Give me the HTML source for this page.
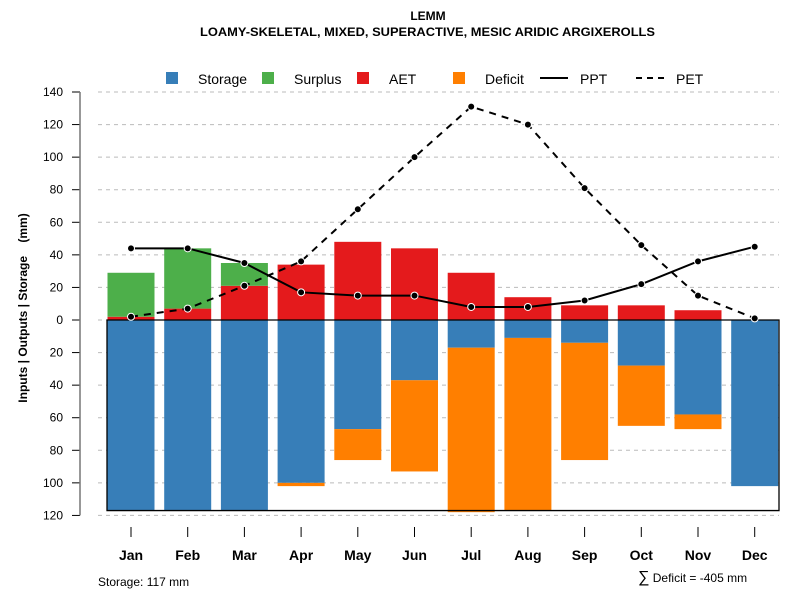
<!DOCTYPE html>
<html><head><meta charset="utf-8"><style>body{margin:0;background:#fff}svg{display:block;font-family:"Liberation Sans",Arial,sans-serif}</style></head>
<body>
<svg id="chart" width="800" height="600" viewBox="0 0 800 600">
<text x="428" y="20" text-anchor="middle" font-size="12" font-weight="bold">LEMM</text>
<text x="200" y="36" font-size="12" font-weight="bold" textLength="455" lengthAdjust="spacingAndGlyphs">LOAMY-SKELETAL, MIXED, SUPERACTIVE, MESIC ARIDIC ARGIXEROLLS</text>
<g id="legend" font-size="14">
<rect x="166" y="72" width="12" height="12" fill="#377EB8"/><text x="198" y="84">Storage</text>
<rect x="262" y="72" width="12" height="12" fill="#4DAF4A"/><text x="294" y="84">Surplus</text>
<rect x="357" y="72" width="12" height="12" fill="#E41A1C"/><text x="389" y="84">AET</text>
<rect x="453" y="72" width="12" height="12" fill="#FF7F00"/><text x="485" y="84">Deficit</text>
<line x1="540" y1="78" x2="568" y2="78" stroke="#000" stroke-width="2"/><text x="580" y="84">PPT</text>
<line x1="636" y1="78" x2="664" y2="78" stroke="#000" stroke-width="2" stroke-dasharray="6,5"/><text x="676" y="84">PET</text>
</g>
<g id="grid"></g><g id="bars"></g><g id="lines"></g><g id="axes"></g>
<text transform="translate(27,308) rotate(-90)" text-anchor="middle" font-size="12" font-weight="bold" xml:space="preserve">Inputs | Outputs | Storage    (mm)</text>
<text x="98" y="586" font-size="12">Storage: 117 mm</text>
<text x="638" y="582" font-size="12"><tspan font-size="16">∑</tspan> Deficit = -405 mm</text>
</svg>
<script>
const months=["Jan","Feb","Mar","Apr","May","Jun","Jul","Aug","Sep","Oct","Nov","Dec"];
const storage=[117,117,117,100,67,37,17,11,14,28,58,102];
const deficit=[0,0,0,2,19,56,101,106,72,37,9,0];
const aet=[2,7,21,34,48,44,29,14,9,9,6,0];
const surplus=[27,37,14,0,0,0,0,0,0,0,0,0];
const ppt=[44,44,35,17,15,15,8,8,12,22,36,45];
const pet=[2,7,21,36,68,100,131,120,81,46,15,1];
const yTicks=[140,120,100,80,60,40,20,0,-20,-40,-60,-80,-100,-120];
const cap=117;
const NS="http://www.w3.org/2000/svg";
const y=v=>320-v*1.6286, x=i=>131+i*56.7, bw=47;
function mk(p,t,a){const e=document.createElementNS(NS,t);for(const k in a)e.setAttribute(k,a[k]);document.getElementById(p).appendChild(e);return e;}
yTicks.forEach(v=>{
 const g=mk("grid","line",{x1:98,x2:779,y1:y(v),y2:y(v),stroke:"#bbb","stroke-dasharray":"4,4"});
 
 
 mk("axes","line",{x1:72,x2:80,y1:y(v),y2:y(v),stroke:"#000"});
 const t=mk("axes","text",{x:63,y:y(v)+4,"text-anchor":"end","font-size":12});t.textContent=Math.abs(v);
 
 
});
mk("axes","line",{x1:80,x2:80,y1:y(140),y2:y(-120),stroke:"#777","stroke-width":1.5});
months.forEach((m,i)=>{
 const cx=x(i),l=cx-bw/2;
 const add=(y1,y2,c,n)=>{if(y2-y1<=0)return;const r=mk("bars","rect",{x:l,y:y1,width:bw,height:y2-y1,fill:c});
  
  };
 add(y(aet[i]),y(0),"#E41A1C","aet-bar");
 add(y(aet[i]+surplus[i]),y(aet[i]),"#4DAF4A","surplus-bar");
 add(y(0),y(-storage[i]),"#377EB8","storage-bar");
 add(y(-storage[i]),y(-storage[i]-deficit[i]),"#FF7F00","deficit-bar");
 mk("axes","line",{x1:cx,x2:cx,y1:527,y2:537,stroke:"#000"});
 const t=mk("axes","text",{x:cx,y:560,"text-anchor":"middle","font-size":14,"font-weight":"bold"});t.textContent=m;
 
 
});
const box=mk("bars","path",{d:`M107,${y(0)}H779V${y(-cap)}H107Z`,fill:"none",stroke:"#000","stroke-width":1.3});


[[ppt,"","ppt-line"],[pet,"7,6","pet-line"]].forEach(([d,da,n])=>{
 const p=mk("lines","polyline",{points:d.map((v,i)=>x(i)+","+y(v)).join(" "),fill:"none",stroke:"#000","stroke-width":2,"stroke-dasharray":da});
 
 
 d.forEach((v,i)=>{const c=mk("lines","circle",{cx:x(i),cy:y(v),r:3.5,fill:"#000",stroke:"#fff","stroke-width":1});
  
  });
});
</script>
</body></html>
